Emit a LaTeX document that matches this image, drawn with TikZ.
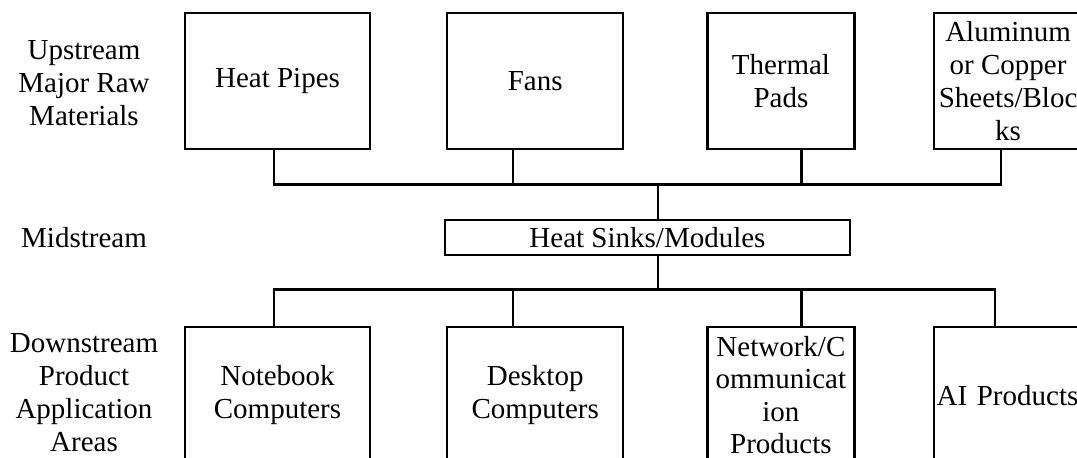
\documentclass[tikz,border=0pt]{standalone}
\usepackage{fontspec}
\setmainfont{Liberation Serif}
\usetikzlibrary{positioning}

\begin{document}
\begin{tikzpicture}[x=1pt,y=-1pt,line width=2.2pt,font=\fontsize{29}{33}\selectfont,
  box/.style={draw,inner sep=0pt,minimum height=136pt,align=center},
  tier/.style={align=center}]
  \useasboundingbox (0,0) rectangle (1077,458);
  \clip (0,0) rectangle (1077,458);
  \node[tier] (up) at (84,83)  {Upstream\\Major Raw\\Materials};
  \node[tier] (ms) at (84,238) {Midstream};
  \node[tier] (ds) at (84,393) {Downstream\\Product\\Application\\Areas};
  \node[box,minimum width=185pt] (hp) at (277.5,81) {Heat Pipes};
  \node[box,minimum width=176pt] (fans) [right=75pt of hp]   {Fans};
  \node[box,minimum width=147pt] (pads) [right=82pt of fans] {Thermal\\Pads};
  \node[box,minimum width=149pt] (alu)  [right=77pt of pads] {Aluminum\\or Copper\\Sheets/Bloc\\ks};
  \node[box,minimum width=405pt,minimum height=35pt] (mid) at (647.5,237.5) {Heat Sinks/Modules};
  \node[box,minimum width=185pt] (nb)   [below=176pt of hp]  {Notebook\\Computers};
  \node[box,minimum width=176pt] (desk) [right=75pt of nb]   {Desktop\\Computers};
  \node[box,minimum width=147pt,font=\fontsize{29}{32.5}\selectfont] (net) [right=82pt of desk] {Network/C\\ommunicat\\ion\\Products};
  \node[box,text width=150pt,align=left,inner xsep=3pt] (ai) [right=77pt of net] {AI Products};
  \coordinate (ub) at (658,184.5);
  \coordinate (lb) at (658,289.5);
  \draw ([xshift=-3.5pt]hp.south) |- (ub);
  \draw ([xshift=-22pt]fans.south) |- (ub);
  \draw ([xshift=20.5pt]pads.south) |- (ub);
  \draw ([xshift=-7.5pt]alu.south) |- (ub);
  \draw (ub) -- (ub |- mid.north);
  \draw (mid.south -| ub) -- (lb);
  \draw (lb) -| ([xshift=-3.5pt]nb.north);
  \draw (lb) -| ([xshift=-22pt]desk.north);
  \draw (lb) -| ([xshift=20.5pt]net.north);
  \draw (lb) -| ([xshift=-17pt]ai.north);
\end{tikzpicture}
\end{document}
